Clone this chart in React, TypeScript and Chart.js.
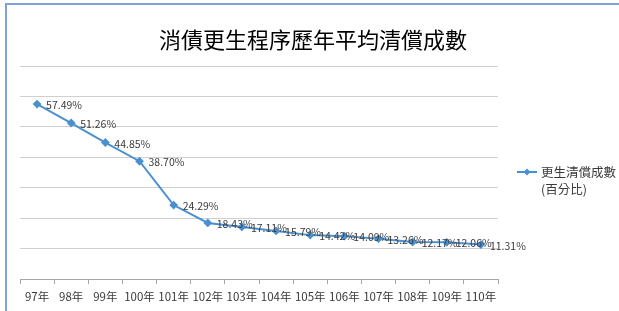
import React, { useEffect, useRef } from "react";
import { Chart, registerables } from "chart.js";

Chart.register(...registerables);

const titleText = "消債更生程序歷年平均清償成數";
const categories = ["97年", "98年", "99年", "100年", "101年", "102年", "103年", "104年", "105年", "106年", "107年", "108年", "109年", "110年"];
const values = [57.49, 51.26, 44.85, 38.7, 24.29, 18.43, 17.11, 15.79, 14.42, 14.09, 13.26, 12.17, 12.06, 11.31];
const seriesLabelLines = ["更生清償成數", "(百分比)"];
const yMin = 0;
const yMax = 70;
const yStep = 10;

const lineColor = "#4a90d0";
const textColor = "#3a3a3a";
const fontFamily = "'Noto Sans CJK TC', 'Noto Sans', sans-serif";

const decorPlugin = {
  id: "decor",
  beforeDraw(chart: any) {
    const { ctx, width, height } = chart;
    ctx.save();
    ctx.fillStyle = "#ffffff";
    ctx.fillRect(0, 0, width, height);
    ctx.strokeStyle = "#7ea1dc";
    ctx.lineWidth = 2;
    ctx.beginPath();
    ctx.moveTo(5, 4);
    ctx.lineTo(width, 4);
    ctx.moveTo(6, 3);
    ctx.lineTo(6, height);
    ctx.stroke();
    ctx.restore();
  },
  afterDatasetsDraw(chart: any) {
    const { ctx } = chart;
    const meta = chart.getDatasetMeta(0);
    ctx.save();
    ctx.fillStyle = textColor;
    ctx.font = `10.5px ${fontFamily}`;
    ctx.textAlign = "left";
    ctx.textBaseline = "middle";
    meta.data.forEach((pt: any, i: number) => {
      const v = chart.data.datasets[0].data[i] as number;
      ctx.fillText(v.toFixed(2) + "%", pt.x + 9, pt.y + 1);
    });
    ctx.restore();
  },
  afterDraw(chart: any) {
    const { ctx, chartArea } = chart;
    ctx.save();
    // title
    ctx.fillStyle = "#000000";
    ctx.font = `22px ${fontFamily}`;
    ctx.textAlign = "center";
    ctx.textBaseline = "middle";
    ctx.fillText(titleText, 313, 40);
    // legend
    const lx = chartArea.right + 19;
    const ly = 172;
    const ds = chart.data.datasets[0];
    ctx.strokeStyle = ds.borderColor;
    ctx.lineWidth = 2;
    ctx.beginPath();
    ctx.moveTo(lx, ly);
    ctx.lineTo(lx + 20, ly);
    ctx.stroke();
    ctx.fillStyle = ds.borderColor;
    ctx.beginPath();
    const cx = lx + 10;
    ctx.moveTo(cx, ly - 3.5);
    ctx.lineTo(cx + 3.5, ly);
    ctx.lineTo(cx, ly + 3.5);
    ctx.lineTo(cx - 3.5, ly);
    ctx.closePath();
    ctx.fill();
    ctx.fillStyle = textColor;
    ctx.font = `12.5px ${fontFamily}`;
    ctx.textAlign = "left";
    ctx.textBaseline = "middle";
    seriesLabelLines.forEach((t, i) => ctx.fillText(t, lx + 24, ly + i * 17));
    ctx.restore();
  },
};

export default function App() {
  const ref = useRef<HTMLCanvasElement>(null);
  useEffect(() => {
    if (!ref.current) return;
    const chart = new Chart(ref.current, {
      type: "line",
      data: {
        labels: categories,
        datasets: [
          {
            label: seriesLabelLines.join(""),
            data: values,
            borderColor: lineColor,
            backgroundColor: lineColor,
            pointBackgroundColor: lineColor,
            pointBorderColor: lineColor,
            pointStyle: "rectRot",
            pointRadius: 3,
            borderWidth: 2,
            tension: 0,
          },
        ],
      },
      plugins: [decorPlugin],
      options: {
        responsive: false,
        animation: false,
        layout: { padding: { left: 20, right: 121, top: 66, bottom: 0 } },
        plugins: { legend: { display: false }, title: { display: false }, tooltip: { enabled: false } },
        scales: {
          x: {
            type: "category",
            offset: true,
            grid: { display: true, drawOnChartArea: false, drawTicks: true, tickLength: 5, color: "#a6a6a6", offset: true },
            border: { color: "#a6a6a6" },
            ticks: { color: textColor, font: { size: 11.5, family: fontFamily }, padding: 6, maxRotation: 0, autoSkip: false },
            afterFit: (s: any) => {
              s.height = 32;
            },
          },
          y: {
            min: yMin,
            max: yMax,
            ticks: { display: false, stepSize: yStep },
            grid: { color: "#d0d0d0", drawTicks: false },
            border: { display: false },
            afterFit: (s: any) => {
              s.width = 0;
            },
          },
        },
      },
    });
    return () => chart.destroy();
  }, []);
  return (
    <div style={{ position: "fixed", left: 0, top: 0, width: 619, height: 311 }}>
      <canvas ref={ref} width={619} height={311} style={{ width: 619, height: 311 }} />
    </div>
  );
}
